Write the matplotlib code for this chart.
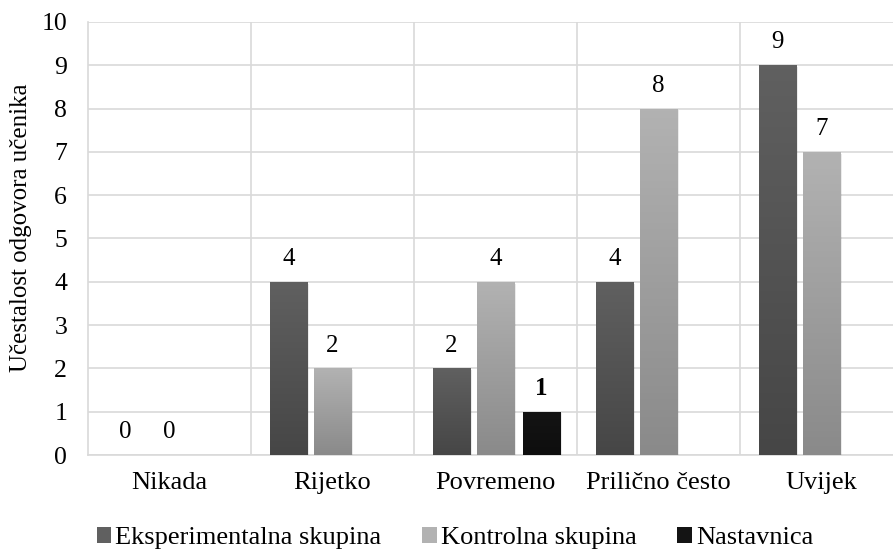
import matplotlib
matplotlib.use("Agg")
import matplotlib.pyplot as plt
import numpy as np
from matplotlib.patches import Patch
from matplotlib.colors import LinearSegmentedColormap

categories = ["Nikada", "Rijetko", "Povremeno", "Prilično često", "Uvijek"]
eksperimentalna = [0, 4, 2, 4, 9]
kontrolna = [0, 2, 4, 8, 7]
nastavnica = [None, None, 1, None, None]
series_names = ["Eksperimentalna skupina", "Kontrolna skupina", "Nastavnica"]
yticks = list(range(0, 11))

plt.rcParams['font.family'] = ['Liberation Serif', 'DejaVu Serif']

fig = plt.figure(figsize=(8.93, 5.49), dpi=100)
ax = fig.add_axes([88/893, 94/549, 815/893, 433/549])

x = np.arange(len(categories))
w = 0.227
offs = [-0.27, 0.0, 0.28]
grads = [("#606060", "#464646"), ("#b2b2b2", "#8a8a8a"), ("#141414", "#0e0e0e")]
label_bold = [False, False, True]

all_series = [eksperimentalna, kontrolna, nastavnica]
for si, (vals, off) in enumerate(zip(all_series, offs)):
    for xi, v in zip(x, vals):
        if v is None:
            continue
        bc = ax.bar(xi + off, v, width=w, color=grads[si][1], zorder=3, linewidth=0)
        rect = bc.patches[0]
        if v > 0:
            cmap = LinearSegmentedColormap.from_list("g", [grads[si][1], grads[si][0]])
            grad = np.linspace(0, 1, 100).reshape(-1, 1)
            x0 = rect.get_x(); x1 = x0 + rect.get_width()
            im = ax.imshow(grad, cmap=cmap, origin="lower", aspect="auto",
                           extent=[x0, x1, 0, v], zorder=3.5)
            im.set_clip_path(rect)
            ax.bar(xi + off + 0.012, v, width=w, bottom=-0.04, color="#000000",
                   alpha=0.08, zorder=2.8, linewidth=0)
        ax.annotate(str(v), (xi + off, v), xytext=(0, 8.5), textcoords="offset points",
                    ha="center", va="bottom", fontsize=18,
                    fontweight="bold" if label_bold[si] else "normal", color="#000000")

ax.set_xlim(-0.5, len(categories) - 0.5)
ax.set_ylim(0, 10)
ax.set_yticks(yticks)
ax.set_yticklabels([str(t) for t in yticks], fontsize=18.5)
ax.set_xticks(x)
ax.set_xticklabels(categories, fontsize=19)
ax.tick_params(axis="both", length=0)
ax.tick_params(axis="x", pad=12)
ax.tick_params(axis="y", pad=15)

for t in yticks:
    ax.axhline(t, color="#d9d9d9", linewidth=1.2, zorder=1)
for b in np.arange(0.5, len(categories) - 0.5, 1.0):
    ax.axvline(b, color="#d9d9d9", linewidth=1.2, zorder=1)
for s in ["top", "right"]:
    ax.spines[s].set_visible(False)
for s in ["left", "bottom"]:
    ax.spines[s].set_color("#d9d9d9")
    ax.spines[s].set_linewidth(1.2)

ax.set_ylabel("Učestalost odgovora učenika", fontsize=18)
ax.yaxis.set_label_coords(-56/815, (455 - 228) / 433)

handles = [Patch(facecolor=grads[i][0], edgecolor="none") for i in range(3)]
fig.legend(handles, series_names, loc="center", bbox_to_anchor=(455/893, 1 - 538/549),
           ncol=3, frameon=False, fontsize=19, handlelength=0.55, handleheight=0.55,
           handletextpad=0.15, columnspacing=1.55, borderpad=0)

fig.savefig("out.png", dpi=100)
